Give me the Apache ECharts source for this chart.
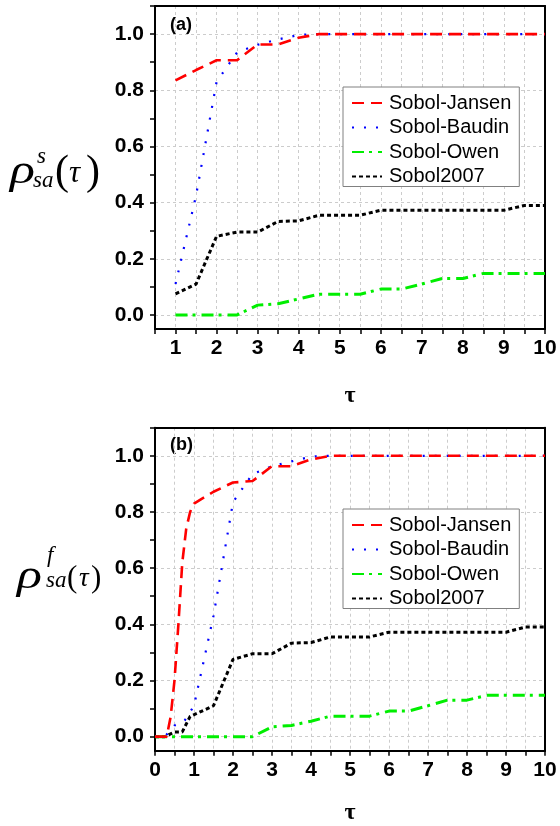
<!DOCTYPE html>
<html>
<head>
<meta charset="utf-8">
<script src="https://cdn.jsdelivr.net/npm/echarts@6/dist/echarts.min.js"></script>
<style>
html,body{margin:0;padding:0;background:#fff;}
#chart{width:560px;height:826px;}
</style>
</head>
<body>
<div id="chart"></div>
<script>
// ---------- Data ----------
const seriesNames = ['Sobol-Jansen', 'Sobol-Baudin', 'Sobol-Owen', 'Sobol2007'];

// Panel (a)
const tauA = [1,1.5,2,2.5,3,3.5,4,4.5,5,5.5,6,6.5,7,7.5,8,8.5,9,9.5,10];
const jansenA = [0.835,0.872,0.907,0.907,0.963,0.963,0.987,1,1,1,1,1,1,1,1,1,1,1,1];
const baudinA = [0.11,0.425,0.83,0.935,0.962,0.981,0.997,1,1,1,1,1,1,1,1,1,1,1,1];
const owenA = [0,0,0,0,0.035,0.04,0.057,0.074,0.074,0.074,0.092,0.092,0.11,0.13,0.13,0.148,0.148,0.148,0.148];
const sobol07A = [0.075,0.11,0.28,0.295,0.295,0.333,0.335,0.355,0.355,0.355,0.373,0.373,0.373,0.373,0.373,0.373,0.373,0.39,0.39];

// Panel (b)
const tauJansenB = [0,0.1,0.2,0.3,0.4,0.5,0.6,0.7,0.8,0.9,1,1.5,2,2.5,3,3.5,4,4.5,5,5.5,6,6.5,7,7.5,8,8.5,9,9.5,10];
const jansenB = [0,0,0,0,0.07,0.2,0.4,0.62,0.74,0.8,0.83,0.872,0.905,0.91,0.963,0.963,0.987,1,1,1,1,1,1,1,1,1,1,1,1];
const tauBaudinB = [0,0.25,0.5,0.75,1,1.5,2,2.5,3,3.5,4,4.5,5,5.5,6,6.5,7,7.5,8,8.5,9,9.5,10];
const baudinB = [0,0,0.04,0.055,0.11,0.43,0.835,0.935,0.963,0.98,0.997,1,1,1,1,1,1,1,1,1,1,1,1];
const tauOwenB = [0,0.5,1,1.5,2,2.5,3,3.5,4,4.5,5,5.5,6,6.5,7,7.5,8,8.5,9,9.5,10];
const owenB = [0,0,0,0,0,0,0.035,0.04,0.055,0.073,0.073,0.073,0.091,0.091,0.11,0.13,0.13,0.147,0.147,0.147,0.147];
const tauSobolB = [0,0.25,0.5,0.7,0.9,1,1.5,2,2.5,3,3.5,4,4.5,5,5.5,6,6.5,7,7.5,8,8.5,9,9.5,10];
const sobol07B = [0,0,0.017,0.017,0.072,0.078,0.11,0.275,0.295,0.295,0.333,0.335,0.355,0.355,0.355,0.372,0.372,0.372,0.372,0.372,0.372,0.372,0.39,0.39];

const yLabelValues = [0,0.2,0.4,0.6,0.8,1.0];
const yTickValues = [0,0.1,0.2,0.3,0.4,0.5,0.6,0.7,0.8,0.9,1.0,1.1];
const xGridValuesA = [1,1.5,2,2.5,3,3.5,4,4.5,5,5.5,6,6.5,7,7.5,8,8.5,9,9.5];
const xGridValuesB = [0.5,1,1.5,2,2.5,3,3.5,4,4.5,5,5.5,6,6.5,7,7.5,8,8.5,9,9.5];

// ---------- Helpers ----------
function pairs(xs, ys){ return xs.map((x,i)=>[x, ys[i]]); }

const styles = [
  {color:'#ff0000', type:[12,7], width:2.6},
  {color:'#0000ff', type:[2,10], width:2.2},
  {color:'#00ee00', type:[12,5,3,6], width:3},
  {color:'#000000', type:[4,3], width:3}
];

const SANS = 'Liberation Sans, Arial, sans-serif';
const SERIF = 'Liberation Serif, Times New Roman, serif';
const gridLine = {show:true, lineStyle:{color:'#cccccc', type:[3,3], width:1}};
const frameLine = {show:true, onZero:false, lineStyle:{color:'#000', width:2}};

function xAxisMain(gridIndex, min){
  return {
    type:'value', gridIndex, min, max:10, interval:0.5, position:'bottom', z:3,
    name:'τ', nameLocation:'middle', nameGap: gridIndex===0 ? 67 : 62,
    nameTextStyle:{fontFamily:SERIF, fontWeight:'bold', fontSize:24, color:'#000', verticalAlign:'middle'},
    axisLine:frameLine,
    axisTick:{show:true, inside:false, length:5, lineStyle:{color:'#000', width:1.5}},
    axisLabel:{margin:9, fontFamily:SANS, fontWeight:'bold', fontSize:21, color:'#000',
      formatter:v => (Math.abs(v-Math.round(v))<1e-9 ? String(Math.round(v)) : '')},
    splitLine:{show:false}
  };
}
function xAxisGrid(gridIndex, min, vals){
  return {
    type:'value', gridIndex, min, max:10, position:'top', z:3,
    axisLine:frameLine,
    axisTick:{show:false, customValues:vals}, axisLabel:{show:false},
    splitLine:gridLine
  };
}
function yAxisMain(gridIndex){
  return {
    type:'value', gridIndex, min:-0.05, max:1.1, position:'left', z:3,
    axisLine:frameLine,
    axisTick:{show:true, inside:false, length:5, customValues:yTickValues, lineStyle:{color:'#000', width:1.5}},
    axisLabel:{margin:11, fontFamily:SANS, fontWeight:'bold', fontSize:21, color:'#000',
      customValues:yLabelValues, formatter:v => v.toFixed(1)},
    splitLine:{show:false}
  };
}
function yAxisGrid(gridIndex){
  return {
    type:'value', gridIndex, min:-0.05, max:1.1, position:'right', z:3,
    axisLine:frameLine, axisTick:{show:false, customValues:yLabelValues}, axisLabel:{show:false},
    splitLine:gridLine
  };
}
function legendCfg(top){
  return {
    data:seriesNames, orient:'vertical', left:343, top:top,
    itemWidth:30, itemHeight:20, itemGap:4.5, padding:[6,8,0,8],
    borderColor:'#808080', borderWidth:1, backgroundColor:'#fff',
    itemStyle:{opacity:0},
    textStyle:{fontFamily:SANS, fontSize:20, color:'#000', padding:[0,0,0,2]}
  };
}

const dataA = [pairs(tauA,jansenA), pairs(tauA,baudinA), pairs(tauA,owenA), pairs(tauA,sobol07A)];
const dataB = [pairs(tauJansenB,jansenB), pairs(tauBaudinB,baudinB), pairs(tauOwenB,owenB), pairs(tauSobolB,sobol07B)];

const series = [];
[dataA, dataB].forEach((set, gi) => {
  set.forEach((d, i) => {
    series.push({
      type:'line', name:seriesNames[i], xAxisIndex:gi*2, yAxisIndex:gi*2,
      data:d, symbol:'none', showSymbol:false, smooth:false, z: 10 - i,
      lineStyle:{color:styles[i].color, type:styles[i].type, width:styles[i].width},
      itemStyle:{color:styles[i].color}
    });
  });
});

function t(text, x, y, size, opts, sx){
  return {type:'text', x, y, scaleX: sx || 1, style:Object.assign({text, fontSize:size, fontFamily:SERIF,
    fill:'#000', verticalAlign:'middle', align:'left'}, opts||{})};
}
const ital = {fontStyle:'italic'};

const graphics = [
  {type:'text', x:170, y:25, style:{text:'(a)', fontFamily:SANS, fontWeight:'bold', fontSize:18, fill:'#000', verticalAlign:'middle'}},
  {type:'text', x:170, y:445, style:{text:'(b)', fontFamily:SANS, fontWeight:'bold', fontSize:18, fill:'#000', verticalAlign:'middle'}},
  // panel (a) y title
  t('ρ', 10, 172, 40, ital, 1.3),
  t('s', 37, 157, 23, ital),
  t('sa', 33, 181, 23, ital),
  t('(', 55, 173, 42),
  t('τ', 69, 174, 31, ital),
  t(')', 86, 173, 42),
  // panel (b) y title
  t('ρ', 17, 577, 40, ital, 1.3),
  t('f', 47, 556, 23, ital),
  t('sa', 46, 581, 23, ital),
  t('(', 67, 579, 31),
  t('τ', 79, 579, 27, ital),
  t(')', 91, 579, 31)
];

const chart = echarts.init(document.getElementById('chart'), null, {renderer:'canvas'});
chart.setOption({
  animation:false,
  backgroundColor:'#fff',
  grid:[
    {left:155, width:390, top:6, height:323, show:false},
    {left:155, width:390, top:427.7, height:323, show:false}
  ],
  xAxis:[xAxisMain(0,0.5), xAxisGrid(0,0.5,xGridValuesA), xAxisMain(1,0), xAxisGrid(1,0,xGridValuesB)],
  yAxis:[yAxisMain(0), yAxisGrid(0), yAxisMain(1), yAxisGrid(1)],
  legend:[legendCfg(87), legendCfg(509)],
  series,
  graphic:graphics
});
</script>
</body>
</html>
